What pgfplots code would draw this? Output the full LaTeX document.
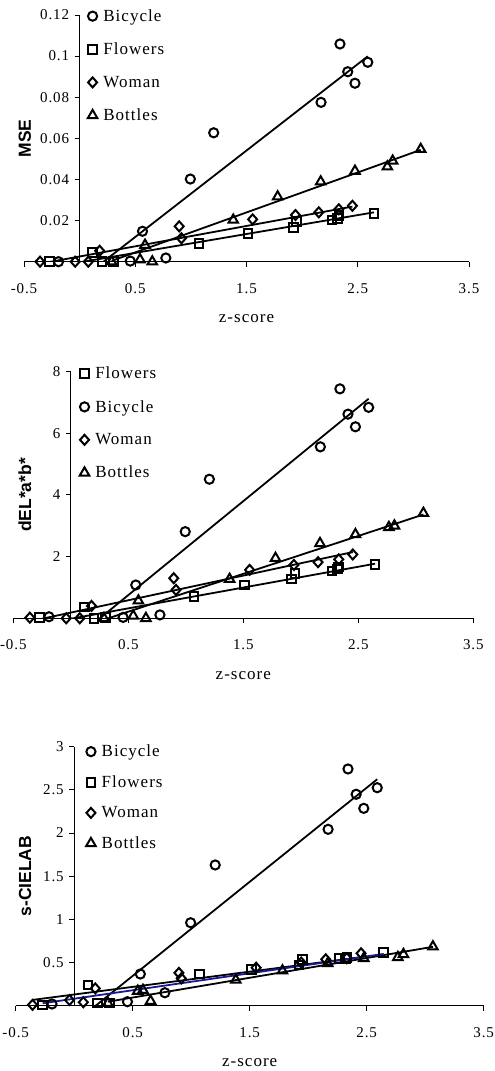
\documentclass[border=0pt]{standalone}
\usepackage{pgfplots}
\pgfplotsset{compat=1.18}
\usepackage{fontspec}
\setmainfont{Liberation Serif}
\newfontfamily\spaced{Liberation Serif}[LetterSpace=6]
\newfontfamily\labfont{Liberation Sans}
\definecolor{trendblue}{RGB}{25,25,150}
\pgfdeclareplotmark{mydiamond}{%
  \pgfpathmoveto{\pgfqpoint{0pt}{\pgfplotmarksize}}%
  \pgfpathlineto{\pgfqpoint{.9\pgfplotmarksize}{0pt}}%
  \pgfpathlineto{\pgfqpoint{0pt}{-\pgfplotmarksize}}%
  \pgfpathlineto{\pgfqpoint{-.9\pgfplotmarksize}{0pt}}%
  \pgfpathclose\pgfusepathqstroke}
\pgfplotsset{
  panel/.style={
    scale only axis, clip=true,
    xmin=-0.5, xmax=3.5, ymin=0,
    axis x line=bottom, axis y line=middle,
    axis line style={-, line width=1pt, black},
    xtick={-0.5,0.5,1.5,2.5,3.5}, xticklabels={-0.5,0.5,1.5,2.5,3.5},
    tick align=outside, major tick length=5pt,
    tick style={black, line width=0.9pt},
    ticklabel style={font=\fontsize{15}{15}\selectfont\spaced},
    xticklabel style={yshift=-13pt},
    yticklabel style={xshift=-2pt},
    legend style={draw=none, fill=none, anchor=north west,
      font=\fontsize{17}{17}\selectfont\spaced, row sep=14pt, column sep=3pt,
      nodes={inner sep=3pt}},
    legend cell align=left,
    legend image code/.code={\draw[mark repeat=2,mark phase=2,##1] plot coordinates {(-5pt,0pt)(0pt,0pt)(5pt,0pt)};},
  },
  ser/.style={only marks, black, mark options={line width=2pt, fill=none, solid}},
  bic/.style={ser, mark=o, mark size=4.6pt},
  flo/.style={ser, mark=square, mark size=4.3pt},
  wom/.style={ser, mark=mydiamond, mark size=5pt},
  bot/.style={ser, mark=triangle, mark size=5.5pt},
  trend/.style={no marks, black, line width=1.8pt, forget plot},
  xlab/.style={every axis x label/.style={at={(axis description cs:0.5,0)}, anchor=center, yshift=-57pt, font=\fontsize{17}{17}\selectfont\spaced}},
}
\begin{document}
\begin{tikzpicture}
\useasboundingbox (0pt,0pt) rectangle (495pt,1071pt);
% ---------------- MSE ----------------
\begin{axis}[panel, xlab, at={(24pt,809.3pt)}, anchor=south west,
  width=445pt, height=246.7pt, ymax=0.12,
  ytick={0,0.02,0.04,0.06,0.08,0.1,0.12}, yticklabels={0,0.02,0.04,0.06,0.08,0.1,0.12},
  every axis y label/.style={at={(axis description cs:0.002,0.5)}, anchor=center, rotate=90, font=\fontsize{17.5}{17.5}\selectfont\labfont\bfseries},
  xlabel={z-score}, ylabel={MSE},
  legend style={at={(axis cs:0.045,0.1252)}}]
\addplot[bic] coordinates {(-0.19,0) (0.455,0.0003) (0.565,0.0148) (0.775,0.0018) (0.995,0.0402) (1.205,0.0627) (2.17,0.0775) (2.34,0.1059) (2.41,0.0924) (2.475,0.0868) (2.59,0.097)};
\addlegendentry{Bicycle}
\addplot[flo] coordinates {(-0.27,0) (0.117,0.0044) (0.2,0) (0.303,0) (1.073,0.0089) (1.513,0.0138) (1.92,0.0165) (1.95,0.0195) (2.27,0.0203) (2.32,0.021) (2.33,0.0225) (2.646,0.0235)};
\addlegendentry{Flowers}
\addplot[wom] coordinates {(-0.356,0) (-0.04,0) (0.078,0) (0.18,0.0053) (0.895,0.0172) (0.915,0.0114) (1.555,0.0206) (1.94,0.0227) (2.15,0.024) (2.33,0.0255) (2.452,0.0272)};
\addlegendentry{Woman}
\addplot[bot] coordinates {(0.288,0) (0.543,0.001) (0.588,0.0081) (0.653,0) (1.381,0.0203) (1.78,0.0316) (2.167,0.0389) (2.475,0.0441) (2.766,0.0462) (2.814,0.049) (3.066,0.0547)};
\addlegendentry{Bottles}
\addplot[trend] coordinates {(-0.19,-0.017) (2.59,0.0999)};
\addplot[trend] coordinates {(-0.27,-0.0028) (2.646,0.0240)};
\addplot[trend] coordinates {(-0.356,-0.001) (2.452,0.0268)};
\addplot[trend] coordinates {(0.288,0.0004) (3.066,0.0544)};
\end{axis}
% ---------------- dE ----------------
\begin{axis}[panel, xlab, at={(13.3pt,452.7pt)}, anchor=south west,
  width=460pt, height=246.7pt, ymax=8,
  ytick={0,2,4,6,8}, yticklabels={0,2,4,6,8},
  every axis y label/.style={at={(axis description cs:0.025,0.5)}, anchor=center, rotate=90, font=\fontsize{17.5}{17.5}\selectfont\labfont\bfseries},
  xlabel={z-score}, ylabel={dEL*a*b*},
  legend style={at={(axis cs:0.05,8.32)}}]
\addplot[flo] coordinates {(-0.27,0.02) (0.117,0.36) (0.2,0) (0.303,0.03) (1.073,0.70) (1.513,1.08) (1.92,1.27) (1.95,1.46) (2.27,1.53) (2.32,1.60) (2.33,1.66) (2.646,1.75)};
\addlegendentry{Flowers}
\addplot[bic] coordinates {(-0.19,0.05) (0.455,0.03) (0.565,1.08) (0.775,0.11) (0.995,2.81) (1.205,4.51) (2.17,5.56) (2.34,7.44) (2.41,6.62) (2.475,6.21) (2.59,6.84)};
\addlegendentry{Bicycle}
\addplot[wom] coordinates {(-0.356,0.02) (-0.04,0) (0.078,0) (0.18,0.40) (0.895,1.30) (0.915,0.92) (1.555,1.57) (1.94,1.73) (2.15,1.82) (2.33,1.91) (2.452,2.07)};
\addlegendentry{Woman}
\addplot[bot] coordinates {(0.288,0) (0.543,0.08) (0.588,0.57) (0.653,0) (1.381,1.27) (1.78,1.95) (2.167,2.43) (2.475,2.72) (2.766,2.95) (2.814,3.00) (3.066,3.41)};
\addlegendentry{Bottles}
\addplot[trend] coordinates {(-0.19,-1.35) (2.59,7.12)};
\addplot[trend] coordinates {(-0.27,-0.197) (2.646,1.77)};
\addplot[trend] coordinates {(-0.356,-0.10) (2.452,2.147)};
\addplot[trend] coordinates {(0.288,-0.046) (3.066,3.365)};
\end{axis}
% ---------------- s-CIELAB ----------------
\begin{axis}[panel, xlab, at={(15.7pt,65.3pt)}, anchor=south west,
  width=468pt, height=259pt, ymax=3,
  ytick={0,0.5,1,1.5,2,2.5,3}, yticklabels={0,0.5,1,1.5,2,2.5,3},
  every axis y label/.style={at={(axis description cs:0.02,0.5)}, anchor=center, rotate=90, font=\fontsize{17.5}{17.5}\selectfont\labfont\bfseries},
  xlabel={z-score}, ylabel={s-CIELAB},
  legend style={at={(axis cs:0.075,3.08)}, row sep=11.5pt}]
\addplot[bic] coordinates {(-0.19,0.02) (0.455,0.046) (0.565,0.367) (0.775,0.15) (0.995,0.961) (1.205,1.63) (2.17,2.043) (2.34,2.742) (2.41,2.449) (2.475,2.286) (2.59,2.525)};
\addlegendentry{Bicycle}
\addplot[flo] coordinates {(-0.27,0.01) (0.117,0.24) (0.2,0.03) (0.303,0.03) (1.073,0.367) (1.513,0.42) (1.92,0.47) (1.95,0.537) (2.27,0.55) (2.32,0.55) (2.33,0.56) (2.646,0.614)};
\addlegendentry{Flowers}
\addplot[wom] coordinates {(-0.356,0.01) (-0.04,0.066) (0.078,0.04) (0.18,0.2) (0.895,0.38) (0.915,0.317) (1.555,0.44) (1.94,0.50) (2.15,0.537) (2.33,0.55) (2.452,0.607)};
\addlegendentry{Woman}
\addplot[bot] coordinates {(0.288,0.03) (0.543,0.17) (0.588,0.18) (0.653,0.054) (1.381,0.298) (1.78,0.405) (2.167,0.49) (2.475,0.549) (2.766,0.56) (2.814,0.595) (3.066,0.684)};
\addlegendentry{Bottles}
\addplot[trend] coordinates {(-0.19,-0.407) (2.59,2.623)};
\addplot[trend] coordinates {(-0.356,0.067) (2.452,0.562)};
\addplot[trend] coordinates {(0.288,0.046) (3.066,0.682)};
\addplot[trend, draw=trendblue] coordinates {(-0.27,0.028) (2.646,0.60)};
\end{axis}
\end{tikzpicture}
\end{document}
